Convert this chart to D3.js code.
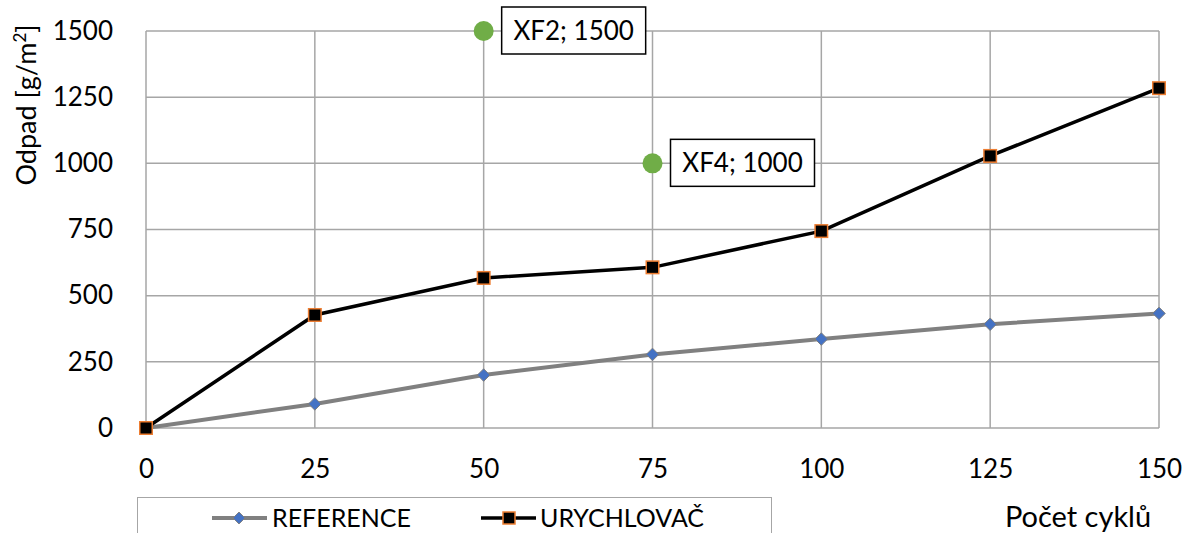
<!DOCTYPE html>
<html><head><meta charset="utf-8">
<script src="https://cdn.jsdelivr.net/npm/d3@7"></script>
<style>body{margin:0;background:#fff}svg{display:block}text{font-family:Lato,"Open Sans",sans-serif;fill:#000}</style>
</head><body>
<svg id="c" width="1184" height="533"></svg>
<script>
const cycles = [0, 25, 50, 75, 100, 125, 150];
const referenceValues = [0, 91, 200, 278, 336, 392, 433];
const urychlovacValues = [0, 427, 567, 607, 744, 1028, 1284];
const specialLabels = ["XF2", "XF4"];
const specialX = [50, 75];
const specialY = [1500, 1000];
const yTicks = [0, 250, 500, 750, 1000, 1250, 1500];
const xTicks = [0, 25, 50, 75, 100, 125, 150];

const svg = d3.select("#c");
const x = d3.scaleLinear().domain([0, 150]).range([146, 1159]);
const y = d3.scaleLinear().domain([0, 1500]).range([428, 31]);

// gridlines
svg.append("g").selectAll("line").data(yTicks).join("line")
  .attr("x1", 146).attr("x2", 1159).attr("y1", d => y(d)).attr("y2", d => y(d))
  .attr("stroke", "#a6a6a6").attr("stroke-width", 1.5);
svg.append("g").selectAll("line").data(xTicks).join("line")
  .attr("y1", 31).attr("y2", 428).attr("x1", d => x(d)).attr("x2", d => x(d))
  .attr("stroke", "#a6a6a6").attr("stroke-width", 1.5);

// axes labels
const yAxis = svg.append("g").attr("transform", "translate(146,0)")
  .call(d3.axisLeft(y).tickValues(yTicks).tickSize(0).tickPadding(33).tickFormat(d3.format("d")));
yAxis.select(".domain").remove();
yAxis.selectAll("text").attr("font-size", 26).attr("font-family", "Lato").attr("fill", "#000");

const xAxis = svg.append("g").attr("transform", "translate(0,428)")
  .call(d3.axisBottom(x).tickValues(xTicks).tickSize(0).tickPadding(32).tickFormat(d3.format("d")));
xAxis.select(".domain").remove();
xAxis.selectAll("text").attr("font-size", 26).attr("font-family", "Lato").attr("fill", "#000");

// axis titles
const yt = svg.append("text").attr("transform", "translate(36,105) rotate(-90)")
  .attr("text-anchor", "middle").attr("font-size", 27);
yt.append("tspan").text("Odpad [g/m");
yt.append("tspan").text("2").attr("font-size", 17).attr("dy", -10);
yt.append("tspan").text("]").attr("dy", 10);
svg.append("text").attr("x", 1078).attr("y", 527).attr("text-anchor", "middle")
  .attr("font-size", 29).text("Počet cyklů");

// lines
const refData = cycles.map((c, i) => [c, referenceValues[i]]);
const uryData = cycles.map((c, i) => [c, urychlovacValues[i]]);
const line = d3.line().x(d => x(d[0])).y(d => y(d[1]));
svg.append("path").datum(refData).attr("d", line).attr("fill", "none")
  .attr("stroke", "#808080").attr("stroke-width", 4);
svg.append("path").datum(uryData).attr("d", line).attr("fill", "none")
  .attr("stroke", "#000").attr("stroke-width", 3.5);

const diamond = d3.symbol().type(d3.symbolDiamond2).size(100);
svg.append("g").selectAll("path").data(refData).join("path")
  .attr("d", diamond).attr("transform", d => `translate(${x(d[0])},${y(d[1])})`)
  .attr("fill", "#4472C4").attr("stroke", "#7f7f7f").attr("stroke-width", 1);
svg.append("g").selectAll("rect").data(uryData).join("rect")
  .attr("x", d => x(d[0]) - 6.25).attr("y", d => y(d[1]) - 6.25)
  .attr("width", 12.5).attr("height", 12.5)
  .attr("fill", "#000").attr("stroke", "#ED7D31").attr("stroke-width", 1.5);

// special points
const sp = specialLabels.map((l, i) => ({l, x: specialX[i], y: specialY[i]}));
svg.append("g").selectAll("circle").data(sp).join("circle")
  .attr("cx", d => x(d.x)).attr("cy", d => y(d.y)).attr("r", 10).attr("fill", "#70AD47");
const lbl = svg.append("g").selectAll("g").data(sp).join("g")
  .attr("transform", d => `translate(${x(d.x) + 18},${y(d.y)})`);
lbl.append("rect").attr("x", 0).attr("y", -24).attr("width", 144).attr("height", 47)
  .attr("fill", "#fff").attr("stroke", "#000").attr("stroke-width", 1.5);
lbl.append("text").attr("x", 72).attr("y", 9).attr("text-anchor", "middle")
  .attr("font-size", 26).text(d => `${d.l}; ${d.y}`);

// legend
svg.append("rect").attr("x", 137.5).attr("y", 497.5).attr("width", 634).attr("height", 50)
  .attr("fill", "#fff").attr("stroke", "#a6a6a6").attr("stroke-width", 1);
const ly = 518;
svg.append("line").attr("x1", 212).attr("x2", 267).attr("y1", ly).attr("y2", ly)
  .attr("stroke", "#808080").attr("stroke-width", 4);
svg.append("path").attr("d", d3.symbol().type(d3.symbolDiamond2).size(90)())
  .attr("transform", `translate(239,${ly})`).attr("fill", "#4472C4").attr("stroke", "#7f7f7f");
svg.append("text").attr("x", 272).attr("y", 527).attr("font-size", 25).text("REFERENCE");
svg.append("line").attr("x1", 481).attr("x2", 536).attr("y1", ly).attr("y2", ly)
  .attr("stroke", "#000").attr("stroke-width", 3.5);
svg.append("rect").attr("x", 503).attr("y", ly - 6).attr("width", 12).attr("height", 12)
  .attr("fill", "#000").attr("stroke", "#ED7D31").attr("stroke-width", 1.5);
svg.append("text").attr("x", 540).attr("y", 527).attr("font-size", 25).text("URYCHLOVAČ");
</script>
</body></html>
